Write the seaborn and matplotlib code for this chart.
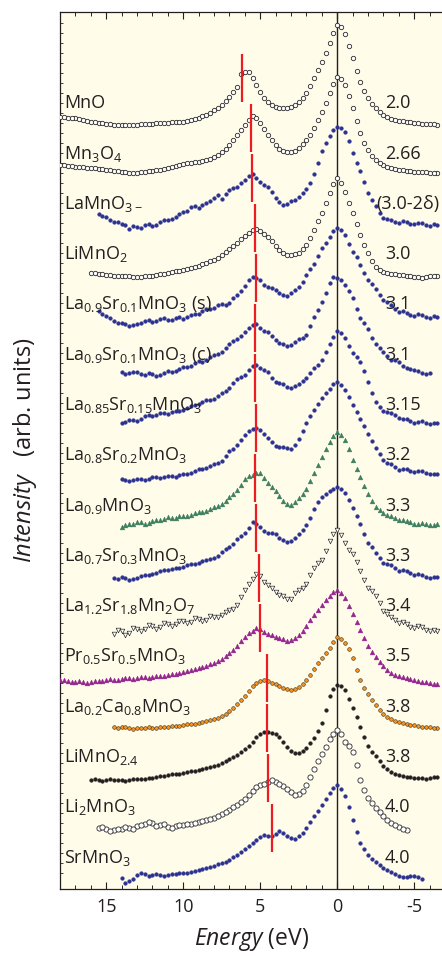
import numpy as np
import matplotlib
matplotlib.use("Agg")
import matplotlib.pyplot as plt
import seaborn as sns


# energy grid for each spectrum, 0.5 eV steps (high -> low binding energy)
def grid(start, stop):
    return np.arange(start, stop - 0.25, -0.5)


# stacked intensities (arb. units).
# "<name>" is read on the whole/half eV grid, "<name>_mid" on the quarter points in between
mno = [77.2, 77.1, 77.1, 76.9, 76.7, 76.6, 76.5, 76.4, 76.4, 76.4,
       76.4, 76.5, 76.5, 76.6, 76.6, 76.7, 76.7, 76.9, 77.1, 77.4,
       77.9, 78.4, 79.2, 80.2, 81.7, 81.1, 79.7, 78.7, 78.2, 78.1,
       78.2, 78.7, 79.6, 81.1, 82.7, 84.6, 86.4, 85.5, 83.1, 80.7,
       79.1, 78.1, 77.4, 77.0, 76.8, 76.7, 76.6, 76.5, 76.5, 76.4]
mno_mid = [77.15, 77.1, 77.0, 76.8, 76.65, 76.55, 76.45, 76.4, 76.4, 76.4,
           76.45, 76.5, 76.55, 76.6, 76.65, 76.7, 76.8, 77.0, 77.25, 77.6,
           78.1, 78.8, 79.7, 81.5, 81.7, 80.4, 79.1, 78.4, 78.1, 78.1,
           78.4, 79.1, 80.3, 81.9, 83.6, 85.6, 86.2, 84.3, 81.8, 79.8,
           78.5, 77.7, 77.2, 76.9, 76.75, 76.65, 76.55, 76.5, 76.45]
mn3o4 = [72.4, 72.3, 72.2, 72.15, 72.1, 72.0, 71.9, 71.8, 71.7, 71.6,
         71.6, 71.7, 71.8, 71.9, 72.1, 72.3, 72.5, 72.6, 72.7, 72.9,
         73.2, 73.7, 74.4, 75.4, 76.4, 77.3, 76.6, 75.4, 74.4, 73.8,
         73.7, 74.1, 74.9, 76.1, 77.7, 79.6, 81.2, 80.4, 78.1, 75.6,
         73.9, 72.9, 72.4, 72.1, 71.9, 71.8, 71.7, 71.7, 71.6, 71.6]
mn3o4_mid = [72.35, 72.25, 72.2, 72.1, 72.05, 71.95, 71.85, 71.75, 71.65, 71.6,
             71.65, 71.75, 71.85, 72.0, 72.2, 72.4, 72.55, 72.65, 72.8, 73.0,
             73.4, 74.0, 74.9, 75.9, 76.9, 77.1, 76.0, 74.9, 74.0, 73.7,
             73.8, 74.5, 75.4, 76.9, 78.6, 80.5, 81.0, 79.3, 76.8, 74.6,
             73.3, 72.6, 72.2, 72.0, 71.85, 71.75, 71.7, 71.65, 71.6]
lamno3_d = [67.5, 67.2, 66.7, 66.5, 66.0, 66.2, 66.4, 66.3, 66.7, 66.9,
            67.2, 67.7, 68.2, 68.1, 68.6, 69.1, 69.0, 69.9, 70.2, 70.9,
            71.5, 70.7, 70.2, 69.1, 68.4, 68.8, 69.2, 70.0, 71.5, 73.8,
            75.3, 76.2, 75.7, 73.6, 71.8, 69.6, 68.3, 67.1, 66.9, 66.6,
            66.7, 66.5, 66.6, 66.3, 66.4]
lamno3_d_mid = [67.3, 66.9, 66.7, 66.4, 66.3, 66.1, 66.5, 66.4, 66.9, 67.0,
                67.5, 67.8, 68.3, 68.4, 68.8, 69.4, 69.5, 70.1, 70.6, 71.3,
                71.1, 70.4, 69.7, 68.7, 68.5, 68.9, 69.6, 70.6, 72.6, 74.6,
                75.9, 76.1, 74.8, 72.6, 70.7, 68.9, 67.6, 67.0, 66.7, 66.8,
                66.5, 66.6, 66.4, 66.5]
limno2 = [61.6, 61.5, 61.4, 61.3, 61.3, 61.25, 61.2, 61.25, 61.3, 61.45,
          61.6, 61.75, 61.9, 62.1, 62.3, 62.6, 62.9, 63.4, 64.0, 64.6,
          65.3, 65.9, 65.8, 65.2, 64.3, 63.6, 63.4, 63.6, 64.4, 65.9,
          67.6, 69.6, 71.1, 69.7, 67.6, 65.4, 63.6, 62.2, 61.7, 61.5,
          61.4, 61.3, 61.2, 61.1, 61.3, 61.3]
limno2_mid = [61.55, 61.45, 61.35, 61.3, 61.3, 61.2, 61.2, 61.3, 61.4, 61.5,
              61.7, 61.8, 62.0, 62.2, 62.45, 62.75, 63.1, 63.7, 64.3, 65.0,
              65.6, 66.0, 65.5, 64.8, 63.9, 63.4, 63.5, 64.0, 65.1, 66.8,
              68.6, 70.5, 70.6, 68.6, 66.5, 64.4, 62.8, 61.9, 61.6, 61.45,
              61.35, 61.25, 61.15, 61.2, 61.3]
lsmo01_s = [57.8, 57.3, 56.8, 56.6, 56.3, 56.5, 56.8, 56.7, 57.0, 56.9,
            57.1, 57.0, 57.4, 57.5, 58.0, 58.1, 58.5, 58.6, 59.4, 60.3,
            61.2, 60.9, 60.2, 59.9, 59.4, 59.6, 60.2, 61.4, 62.5, 64.1,
            65.2, 66.1, 65.4, 63.7, 62.4, 60.9, 60.0, 58.9, 58.4, 57.7,
            57.6, 57.3, 57.4, 57.1, 57.2]
lsmo01_s_mid = [57.5, 57.1, 56.6, 56.5, 56.4, 56.6, 56.9, 56.8, 57.1, 56.9,
                57.2, 57.2, 57.5, 57.8, 58.0, 58.4, 58.4, 59.1, 59.8, 60.9,
                61.1, 60.4, 60.1, 59.6, 59.3, 59.9, 60.7, 62.0, 63.3, 64.6,
                65.8, 65.9, 64.5, 63.2, 61.6, 60.5, 59.4, 58.7, 58.0, 57.8,
                57.4, 57.5, 57.2, 57.3]
lsmo01_c = [51.7, 51.6, 51.7, 51.4, 51.5, 51.4, 51.8, 51.8, 52.2, 52.3,
            52.8, 52.9, 53.4, 53.7, 54.5, 55.0, 55.7, 56.4, 56.1, 55.7,
            54.9, 54.5, 54.4, 55.0, 55.4, 57.2, 58.7, 60.6, 61.1, 60.4,
            59.1, 57.1, 56.0, 54.5, 53.7, 52.9, 52.7, 52.1, 51.9, 51.6,
            51.6]
lsmo01_c_mid = [51.5, 51.7, 51.5, 51.6, 51.3, 51.6, 51.7, 52.0, 52.2, 52.6,
                52.7, 53.2, 53.5, 54.1, 54.8, 55.3, 56.1, 56.5, 55.8, 55.3,
                54.6, 54.3, 54.7, 55.1, 56.3, 57.9, 59.6, 61.2, 60.9, 59.8,
                58.0, 56.6, 55.1, 54.1, 53.3, 52.9, 52.3, 52.0, 51.8, 51.5]
lsmo015 = [46.6, 46.9, 46.8, 47.3, 47.3, 47.6, 47.5, 47.8, 47.9, 48.3,
           48.5, 48.9, 49.0, 49.6, 50.1, 51.0, 51.4, 52.3, 52.1, 51.7,
           50.7, 50.5, 50.1, 50.5, 51.1, 52.1, 52.9, 54.5, 55.8, 55.1,
           53.6, 52.7, 50.7, 48.7, 47.8, 47.6, 47.1, 47.0, 46.6, 46.8,
           46.5, 46.6]
lsmo015_mid = [46.7, 46.9, 47.0, 47.4, 47.4, 47.6, 47.7, 47.8, 48.1, 48.4,
               48.7, 48.9, 49.3, 49.8, 50.6, 51.2, 51.9, 52.4, 51.9, 51.1,
               50.6, 50.2, 50.3, 50.8, 51.6, 52.4, 53.7, 55.2, 55.6, 54.3,
               53.2, 51.8, 49.6, 48.2, 47.7, 47.4, 47.0, 46.8, 46.7, 46.6,
               46.6]
lsmo02 = [41.0, 40.8, 41.0, 40.9, 41.2, 41.1, 41.3, 41.2, 41.5, 41.6,
          42.0, 42.1, 42.5, 42.8, 43.8, 44.4, 45.4, 46.0, 45.9, 45.1,
          44.3, 44.2, 44.0, 45.0, 46.6, 47.9, 49.1, 50.0, 50.7, 49.9,
          48.4, 47.0, 45.5, 44.1, 42.9, 42.5, 41.9, 42.0, 41.7, 41.8,
          41.5, 41.5]
lsmo02_mid = [40.9, 40.9, 41.0, 41.0, 41.2, 41.2, 41.3, 41.4, 41.5, 41.8,
              42.0, 42.3, 42.6, 43.3, 44.0, 44.9, 45.8, 46.1, 45.5, 44.7,
              44.2, 44.1, 44.4, 45.8, 47.3, 48.5, 49.6, 50.5, 50.4, 49.2,
              47.7, 46.3, 44.8, 43.5, 42.6, 42.2, 42.0, 41.8, 41.8, 41.6,
              41.5]
la09mno3 = [36.2, 36.5, 36.7, 36.5, 36.8, 36.9, 37.2, 37.1, 37.3, 37.4,
            37.7, 37.8, 38.2, 38.5, 39.2, 39.9, 41.0, 41.4, 41.6, 40.6,
            39.8, 38.8, 38.4, 39.1, 40.0, 41.6, 43.2, 44.7, 45.7, 44.9,
            42.9, 41.2, 39.5, 38.2, 37.6, 37.3, 36.9, 36.8, 36.5, 36.6,
            36.4, 36.5]
la09mno3_mid = [36.4, 36.5, 36.7, 36.6, 36.9, 37.0, 37.1, 37.3, 37.3, 37.6,
                37.7, 38.0, 38.3, 38.8, 39.5, 40.4, 41.3, 41.6, 41.1, 40.2,
                39.3, 38.5, 38.7, 39.5, 40.8, 42.4, 44.0, 45.3, 45.4, 44.0,
                42.0, 40.3, 38.8, 37.9, 37.4, 37.1, 36.9, 36.7, 36.5, 36.5,
                36.4]
lsmo03 = [31.1, 31.2, 30.9, 31.1, 31.4, 31.5, 31.8, 31.9, 32.1, 32.2,
          32.5, 32.6, 32.9, 33.1, 33.7, 34.2, 35.0, 35.6, 36.7, 36.2,
          35.6, 35.5, 34.9, 34.8, 35.5, 36.4, 38.0, 39.2, 39.8, 40.2,
          39.6, 38.1, 36.5, 34.6, 33.6, 32.6, 32.4, 31.8, 31.8, 31.4,
          31.4, 31.1, 31.2]
lsmo03_mid = [31.0, 31.1, 31.0, 31.3, 31.4, 31.6, 31.9, 32.0, 32.1, 32.4,
              32.5, 32.8, 33.0, 33.3, 34.0, 34.5, 35.3, 36.1, 36.5, 35.8,
              35.6, 35.1, 34.7, 35.1, 35.9, 37.1, 38.7, 39.5, 40.0, 40.0,
              38.9, 37.3, 35.5, 34.2, 33.1, 32.5, 32.1, 31.9, 31.6, 31.5,
              31.2, 31.2]
lsmo327 = [25.5, 25.8, 25.6, 26.0, 26.0, 26.3, 26.2, 26.5, 26.5, 26.8,
           26.7, 27.0, 26.9, 27.2, 27.4, 27.9, 28.4, 29.9, 31.0, 31.3,
           30.4, 29.7, 29.3, 29.0, 29.9, 30.5, 32.1, 32.9, 34.8, 35.9,
           34.6, 33.5, 31.8, 30.1, 29.3, 27.8, 27.2, 26.6, 26.5, 26.1,
           26.2, 25.8, 25.8]
lsmo327_mid = [25.9, 25.4, 26.1, 25.8, 26.4, 26.0, 26.6, 26.3, 26.8, 26.6,
               27.1, 26.8, 27.3, 27.2, 27.7, 28.0, 29.2, 30.5, 31.5, 30.7,
               30.1, 29.4, 29.0, 29.6, 30.1, 31.4, 32.6, 33.8, 35.5, 35.4,
               33.9, 32.7, 30.9, 29.8, 28.6, 27.5, 26.9, 26.7, 26.2, 26.3,
               25.9, 25.9]
psmo = [20.9, 20.8, 20.7, 20.7, 20.7, 20.8, 20.9, 20.9, 21.0, 21.1,
        21.1, 21.2, 21.2, 21.3, 21.4, 21.5, 21.7, 21.9, 22.1, 22.3,
        22.6, 23.0, 23.6, 24.3, 25.2, 25.8, 26.0, 25.5, 25.2, 25.0,
        24.9, 25.4, 26.3, 27.4, 28.4, 29.3, 29.9, 29.1, 27.5, 25.9,
        24.3, 23.2, 22.3, 21.6, 21.3, 21.1, 20.9, 20.7, 20.6, 20.5]
psmo_mid = [20.9, 20.7, 20.8, 20.6, 20.8, 20.8, 21.0, 20.9, 21.1, 21.0,
            21.2, 21.1, 21.3, 21.3, 21.5, 21.6, 21.8, 22.0, 22.2, 22.5,
            22.8, 23.3, 23.9, 24.8, 25.6, 26.1, 25.7, 25.4, 25.1, 24.8,
            25.1, 25.8, 26.9, 27.9, 28.9, 29.7, 29.6, 28.3, 26.7, 25.1,
            23.7, 22.7, 21.9, 21.4, 21.2, 21.0, 20.8, 20.7, 20.5]
lcmo = [16.2, 16.15, 16.1, 16.1, 16.1, 16.1, 16.15, 16.2, 16.3, 16.4,
        16.5, 16.6, 16.8, 17.0, 17.3, 17.8, 18.5, 19.3, 20.3, 20.8,
        20.8, 20.5, 20.1, 19.9, 20.2, 20.9, 22.0, 23.1, 24.1, 25.2,
        24.6, 23.1, 20.9, 19.5, 18.4, 17.5, 17.0, 16.7, 16.5, 16.4,
        16.2, 16.2, 16.1]
lcmo_mid = [16.1, 16.2, 16.0, 16.1, 16.2, 16.1, 16.2, 16.3, 16.3, 16.5,
            16.5, 16.7, 16.9, 17.1, 17.5, 18.1, 18.9, 19.8, 20.6, 20.9,
            20.6, 20.3, 20.0, 20.0, 20.5, 21.4, 22.6, 23.6, 24.7, 25.0,
            24.0, 21.9, 20.1, 18.9, 17.9, 17.2, 16.8, 16.6, 16.4, 16.3,
            16.2, 16.1]
limno24 = [10.9, 10.9, 10.9, 10.9, 10.9, 10.9, 10.95, 11.0, 11.1, 11.25,
           11.4, 11.5, 11.6, 11.75, 11.9, 12.1, 12.3, 12.6, 13.0, 13.4,
           14.0, 14.7, 15.5, 15.7, 15.5, 14.7, 13.8, 13.6, 14.1, 15.1,
           16.6, 19.3, 20.4, 19.9, 18.1, 16.2, 14.3, 13.3, 12.3, 11.7,
           11.4, 11.2, 11.1, 11.1, 11.1, 11.2]
limno24_mid = [11.0, 10.8, 11.0, 10.9, 10.8, 11.0, 11.0, 11.1, 11.2, 11.3,
               11.5, 11.5, 11.7, 11.8, 12.0, 12.2, 12.4, 12.8, 13.2, 13.7,
               14.3, 15.2, 15.7, 15.6, 15.2, 14.2, 13.6, 13.8, 14.6, 15.8,
               17.9, 20.0, 20.3, 19.0, 17.2, 15.2, 13.7, 12.8, 12.0, 11.5,
               11.3, 11.2, 11.1, 11.0, 11.2]
li2mno3 = [6.1, 6.0, 5.9, 6.0, 6.1, 6.3, 6.5, 6.6, 6.4, 6.2,
           6.3, 6.4, 6.5, 6.7, 6.9, 7.1, 7.5, 7.9, 8.4, 9.0,
           9.8, 10.4, 10.7, 10.7, 10.3, 9.7, 9.5, 10.4, 12.0, 13.5,
           15.0, 15.9, 14.7, 13.7, 10.9, 9.1, 8.1, 7.3, 6.6, 6.2,
           5.9]
li2mno3_mid = [6.2, 5.8, 6.0, 6.2, 6.0, 6.4, 6.7, 6.3, 6.5, 6.1,
               6.4, 6.5, 6.6, 6.8, 7.0, 7.3, 7.7, 8.2, 8.7, 9.4,
               10.2, 10.5, 10.9, 10.5, 10.0, 9.4, 9.8, 11.2, 12.8, 14.2,
               15.5, 15.5, 14.3, 12.4, 9.9, 8.6, 7.7, 6.9, 6.4, 6.0]
srmno3 = [1.1, 0.8, 1.4, 1.5, 1.4, 1.4, 1.4, 1.5, 1.6, 1.7,
          1.9, 2.1, 2.3, 2.6, 2.9, 3.4, 4.0, 4.6, 5.2, 5.3,
          5.5, 5.6, 5.1, 5.3, 6.1, 7.3, 8.4, 9.6, 10.4, 9.3,
          6.9, 4.6, 3.4, 2.7, 2.1, 1.7, 1.3, 1.2, 1.3, 1.0]
srmno3_mid = [0.6, 1.0, 1.6, 1.3, 1.5, 1.3, 1.5, 1.6, 1.6, 1.8,
              2.0, 2.2, 2.5, 2.7, 3.2, 3.7, 4.3, 4.9, 5.4, 5.3,
              5.8, 5.3, 5.0, 5.6, 6.7, 7.8, 9.0, 10.1, 10.0, 8.2,
              5.7, 4.0, 3.0, 2.4, 1.9, 1.5, 1.2, 1.3, 1.2]

spectra = [(mno, mno_mid), (mn3o4, mn3o4_mid), (lamno3_d, lamno3_d_mid),
           (limno2, limno2_mid), (lsmo01_s, lsmo01_s_mid), (lsmo01_c, lsmo01_c_mid),
           (lsmo015, lsmo015_mid), (lsmo02, lsmo02_mid), (la09mno3, la09mno3_mid),
           (lsmo03, lsmo03_mid), (lsmo327, lsmo327_mid), (psmo, psmo_mid),
           (lcmo, lcmo_mid), (limno24, limno24_mid), (li2mno3, li2mno3_mid),
           (srmno3, srmno3_mid)]
e_ranges = [(18, -6.5), (18, -6.5), (15.5, -6.5), (16, -6.5), (15.5, -6.5),
            (14, -6), (14, -6.5), (14, -6.5), (14, -6.5), (14.5, -6.5),
            (14.5, -6.5), (18, -6.5), (14.5, -6.5), (16, -6.5), (15.5, -4.5),
            (14, -5.5)]

names = ["MnO", "Mn$_3$O$_4$", "LaMnO$_{3-}$", "LiMnO$_2$",
         "La$_{0.9}$Sr$_{0.1}$MnO$_3$ (s)", "La$_{0.9}$Sr$_{0.1}$MnO$_3$ (c)",
         "La$_{0.85}$Sr$_{0.15}$MnO$_3$", "La$_{0.8}$Sr$_{0.2}$MnO$_3$",
         "La$_{0.9}$MnO$_3$", "La$_{0.7}$Sr$_{0.3}$MnO$_3$",
         "La$_{1.2}$Sr$_{1.8}$Mn$_2$O$_7$", "Pr$_{0.5}$Sr$_{0.5}$MnO$_3$",
         "La$_{0.2}$Ca$_{0.8}$MnO$_3$", "LiMnO$_{2.4}$", "Li$_2$MnO$_3$",
         "SrMnO$_3$"]
valence = ["2.0", "2.66", "(3.0-2δ)", "3.0", "3.1", "3.1", "3.15", "3.2",
           "3.3", "3.3", "3.4", "3.5", "3.8", "3.8", "4.0", "4.0"]

# satellite peak positions (eV) marked by the red bars
sat_energy = [6.17, 5.58, 5.52, 5.32, 5.26, 5.32, 5.32, 5.26,
              5.32, 5.26, 5.08, 5.0, 4.56, 4.56, 4.5, 4.21]

# marker styles
BLUE = "#2B3190"
OPEN_C = dict(marker="o", s=10, color="white", edgecolor="#2a2a2a", linewidth=0.6)
DOT_B = dict(marker="o", s=7, color=BLUE, edgecolor=BLUE, linewidth=0.3)
styles = [OPEN_C, OPEN_C, DOT_B, OPEN_C, DOT_B, DOT_B, DOT_B, DOT_B,
          dict(marker="^", s=12, color="#3F7F5F", edgecolor="#3F7F5F", linewidth=0.3),
          DOT_B,
          dict(marker="v", s=11, color="white", edgecolor="#2a2a2a", linewidth=0.5),
          dict(marker="^", s=12, color="#93278F", edgecolor="#93278F", linewidth=0.3),
          dict(marker="o", s=7, color="#F7931E", edgecolor="#3a2a10", linewidth=0.4),
          dict(marker="o", s=7, color="#231F20", edgecolor="#231F20", linewidth=0.3),
          dict(marker="o", s=14, color="white", edgecolor="#2a2a2a", linewidth=0.6),
          DOT_B]

sns.set_style("ticks")
plt.rcParams["font.family"] = ["Open Sans", "DejaVu Sans"]
plt.rcParams["mathtext.fontset"] = "custom"
plt.rcParams["mathtext.rm"] = "Open Sans"
plt.rcParams["mathtext.it"] = "Open Sans:italic"
plt.rcParams["axes.unicode_minus"] = False

fig = plt.figure(figsize=(4.42, 9.56), dpi=100)
ax = fig.add_axes([60 / 442, 67.5 / 956, 382 / 442, 876.2 / 956])
ax.set_facecolor("#FFFCE9")

for (a, b), (vals, vals_mid), st in zip(e_ranges, spectra, styles):
    x = np.concatenate([grid(a, b), grid(a - 0.25, b + 0.25)])
    y = np.concatenate([vals, vals_mid])
    sns.scatterplot(x=x, y=y, ax=ax, legend=False, zorder=3, **st)

ax.axvline(0, color="#231F20", lw=1.0, zorder=2)

# red bars: each spans one row of the stack
row_top = 83.55
row_step = 5.0
for i, e0 in enumerate(sat_energy):
    ax.vlines(e0, row_top - (i + 1) * row_step + 0.1, row_top - i * row_step - 0.1,
              color="#ED1C24", lw=1.6, zorder=4)

# compound names on the left, valence on the right
for i, (nm, v) in enumerate(zip(names, valence)):
    yb = 78.05 - i * 5.03
    ax.text(17.75, yb, nm, fontsize=13, color="#231F20", ha="left", va="baseline", zorder=5)
    xv = -2.5 if v.startswith("(") else -3.1
    ax.text(xv, yb, v, fontsize=13, color="#231F20", ha="left", va="baseline", zorder=5)

ax.set_xlim(18, -6.8)
ax.set_ylim(0, 87.65)
ax.set_xticks([15, 10, 5, 0, -5])
ax.set_xticks(np.arange(-6, 19, 1), minor=True)
ax.set_yticks([])
ax.set_yticks(np.arange(1.6, 87.5, 1.0), minor=True)
ax.tick_params(axis="x", which="major", direction="in", length=5, width=0.8,
               top=True, labelsize=13, pad=7, colors="#231F20")
ax.tick_params(axis="x", which="minor", direction="in", length=3, width=0.7, top=True)
ax.tick_params(axis="y", which="minor", direction="in", length=2, width=0.6)
ax.spines["right"].set_visible(False)
for sp in ["left", "top", "bottom"]:
    ax.spines[sp].set_linewidth(0.9)
    ax.spines[sp].set_color("#231F20")

ax.set_xlabel(r"$\mathit{Energy}$ (eV)", fontsize=16.5, color="#231F20", labelpad=7)
ax.set_ylabel(r"$\mathit{Intensity}$   (arb. units)", fontsize=17, color="#231F20",
              labelpad=12)

fig.savefig("out.png", dpi=100, facecolor="white")
